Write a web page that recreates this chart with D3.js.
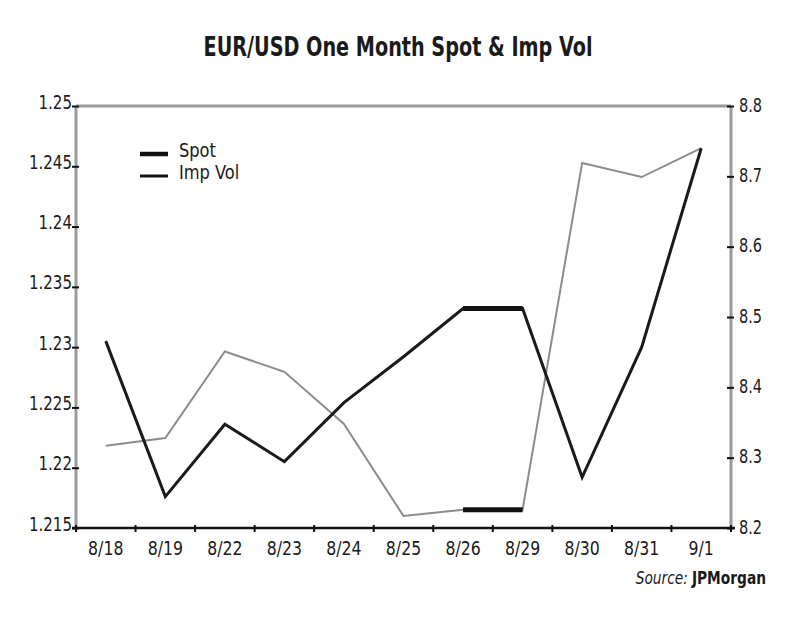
<!DOCTYPE html>
<html>
<head>
<meta charset="utf-8">
<script src="https://cdn.jsdelivr.net/npm/d3@7"></script>
<style>
  body { margin: 0; background: #fff; }
  text { font-family: "DejaVu Sans Condensed", "Liberation Sans Narrow", sans-serif; fill: #1a1a1a; }
</style>
</head>
<body>
<div id="chart"></div>
<script>
var dates = ["8/18", "8/19", "8/22", "8/23", "8/24", "8/25", "8/26", "8/29", "8/30", "8/31", "9/1"];
var spot = [1.2305, 1.2176, 1.2236, 1.2205, 1.2254, 1.2292, 1.2332, 1.2332, 1.2192, 1.2300, 1.2465];
var impVol = [8.317, 8.328, 8.451, 8.422, 8.348, 8.217, 8.226, 8.226, 8.719, 8.699, 8.740];
var leftTicks = [1.215, 1.22, 1.225, 1.23, 1.235, 1.24, 1.245, 1.25];
var rightTicks = [8.2, 8.3, 8.4, 8.5, 8.6, 8.7, 8.8];

var width = 800;
var height = 619;
var margin = { top: 106, right: 69, bottom: 91, left: 76 };

var svg = d3.select("#chart").append("svg")
  .attr("width", width)
  .attr("height", height);

// squeeze text horizontally, the original uses a narrow condensed face
function condense(sel, f) {
  sel.each(function () {
    var len = this.getComputedTextLength();
    d3.select(this)
      .attr("textLength", len * f)
      .attr("lengthAdjust", "spacingAndGlyphs");
  });
}

var x = d3.scaleBand()
  .domain(dates)
  .range([margin.left, width - margin.right])
  .paddingInner(0);

var yL = d3.scaleLinear()
  .domain([1.215, 1.25])
  .range([height - margin.bottom, margin.top]);

var yR = d3.scaleLinear()
  .domain([8.2, 8.8])
  .range([height - margin.bottom, margin.top]);

// title
svg.append("text")
  .attr("x", 398)
  .attr("y", 56)
  .attr("text-anchor", "middle")
  .attr("font-size", 27)
  .attr("font-weight", "bold")
  .attr("textLength", 389)
  .attr("lengthAdjust", "spacingAndGlyphs")
  .text("EUR/USD One Month Spot & Imp Vol");

// frame: grey top and side rules
var frame = svg.append("g")
  .attr("stroke", "#9a9a9a")
  .attr("stroke-width", 3);

frame.append("line")
  .attr("x1", margin.left).attr("x2", width - margin.right)
  .attr("y1", margin.top).attr("y2", margin.top);
frame.append("line")
  .attr("x1", margin.left).attr("x2", margin.left)
  .attr("y1", margin.top).attr("y2", height - margin.bottom);
frame.append("line")
  .attr("x1", width - margin.right).attr("x2", width - margin.right)
  .attr("y1", margin.top).attr("y2", height - margin.bottom);

// left axis
var leftAxis = svg.append("g")
  .attr("transform", "translate(" + margin.left + ",0)")
  .call(d3.axisLeft(yL).tickValues(leftTicks).tickSize(3)
    .tickFormat(function (d) { return String(+d.toFixed(3)); }));
leftAxis.attr("font-family", null).attr("font-size", null);
leftAxis.select(".domain").remove();
leftAxis.selectAll(".tick line")
  .attr("x1", 3).attr("x2", -4)
  .attr("stroke", "#111").attr("stroke-width", 2);
leftAxis.selectAll(".tick text")
  .attr("x", -4)
  .attr("y", 2)
  .attr("dy", null)
  .attr("font-size", 19)
  .attr("fill", "#1a1a1a")
  .call(condense, 0.88);

// right axis
var rightAxis = svg.append("g")
  .attr("transform", "translate(" + (width - margin.right) + ",0)")
  .call(d3.axisRight(yR).tickValues(rightTicks).tickSize(3)
    .tickFormat(d3.format(".1f")));
rightAxis.attr("font-family", null).attr("font-size", null);
rightAxis.select(".domain").remove();
rightAxis.selectAll(".tick line")
  .attr("x1", -4).attr("x2", 3)
  .attr("stroke", "#111").attr("stroke-width", 2);
rightAxis.selectAll(".tick text")
  .attr("x", 8)
  .attr("y", 5)
  .attr("dy", null)
  .attr("font-size", 19)
  .attr("fill", "#1a1a1a")
  .call(condense, 0.85);

// bottom axis
var bottom = svg.append("g")
  .attr("transform", "translate(0," + (height - margin.bottom) + ")");
bottom.append("line")
  .attr("x1", margin.left - 4).attr("x2", width - margin.right + 4)
  .attr("stroke", "#111").attr("stroke-width", 2.5);
var bounds = dates.map(function (d) { return x(d); }).concat([x(dates[dates.length - 1]) + x.bandwidth()]);
bottom.selectAll(".xtick")
  .data(bounds)
  .enter().append("line")
  .attr("x1", function (d) { return d; }).attr("x2", function (d) { return d; })
  .attr("y1", -3).attr("y2", 4)
  .attr("stroke", "#111").attr("stroke-width", 2);
bottom.selectAll(".xlabel")
  .data(dates)
  .enter().append("text")
  .attr("x", function (d) { return x(d) + x.bandwidth() / 2; })
  .attr("y", 27)
  .attr("text-anchor", "middle")
  .attr("font-size", 19)
  .text(function (d) { return d; })
  .call(condense, 0.92);

// series drawn as segments; flat stretches come out heavier in the original
function drawSeries(values, scale, colour, w) {
  var pts = values.map(function (v, i) {
    return [x(dates[i]) + x.bandwidth() / 2, scale(v)];
  });
  svg.append("path")
    .attr("d", d3.line()(pts))
    .attr("fill", "none")
    .attr("stroke", colour)
    .attr("stroke-width", w)
    .attr("stroke-linejoin", "miter");
  var flats = [];
  for (var i = 1; i < values.length; i++) {
    if (values[i] === values[i - 1]) flats.push([pts[i - 1], pts[i]]);
  }
  svg.selectAll(null)
    .data(flats)
    .enter().append("path")
    .attr("d", function (d) { return d3.line()(d); })
    .attr("stroke", "#111")
    .attr("stroke-width", 5);
}

drawSeries(impVol, yR, "#8c8c8c", 2);
drawSeries(spot, yL, "#1a1a1a", 3);

// legend
var legend = svg.append("g");
var legendItems = [{ name: "Spot", w: 4.5 }, { name: "Imp Vol", w: 3 }];
legendItems.forEach(function (d, i) {
  var ly = 154 + i * 22;
  legend.append("line")
    .attr("x1", 140).attr("x2", 168)
    .attr("y1", ly).attr("y2", ly)
    .attr("stroke", "#111").attr("stroke-width", d.w);
  legend.append("text")
    .attr("x", 179)
    .attr("y", ly + 3)
    .attr("font-size", 19)
    .attr("fill", "#333")
    .text(d.name)
    .call(condense, 0.95);
});

// source, two pieces so they do not collide
var srcName = svg.append("text")
  .attr("x", 766)
  .attr("y", 584)
  .attr("text-anchor", "end")
  .attr("font-size", 18)
  .attr("font-weight", "bold")
  .text("JPMorgan")
  .call(condense, 0.85);
var nameW = srcName.node().getComputedTextLength();
svg.append("text")
  .attr("x", 766 - nameW - 4)
  .attr("y", 584)
  .attr("text-anchor", "end")
  .attr("font-size", 18)
  .attr("font-style", "italic")
  .text("Source:")
  .call(condense, 0.85);
</script>
</body>
</html>
